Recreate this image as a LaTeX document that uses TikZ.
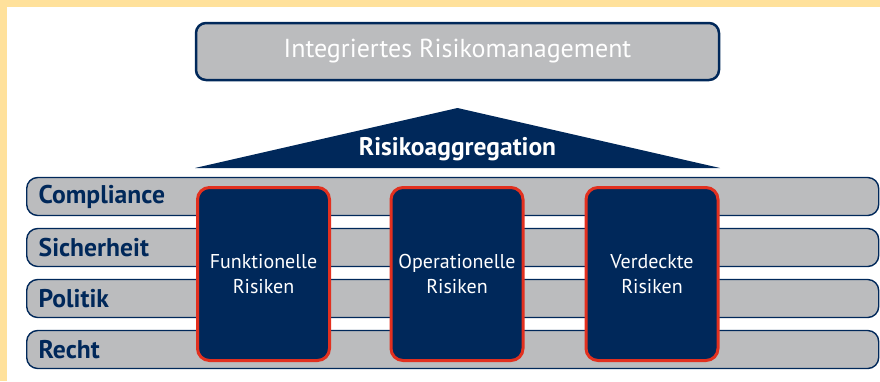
\documentclass[tikz,border=0pt]{standalone}
\usepackage{fontspec}
\setmainfont{PT Sans}
\usepackage{tikz}
\definecolor{marino}{HTML}{00285A}
\definecolor{gris}{HTML}{BBBCBE}
\definecolor{rojo}{HTML}{E2301F}
\definecolor{amarillo}{HTML}{FFE19B}

\begin{document}
\begin{tikzpicture}[x=1pt, y=-1pt, % 1 unidad = 1pt, eje y hacia abajo
    barra/.style={draw=marino, line width=1.4pt, fill=gris, rounded corners=11pt,
        minimum width=852pt, minimum height=38pt, anchor=west, inner xsep=12pt,
        text width=828pt, align=left, text=marino, font=\bfseries\fontsize{25.6}{27}\selectfont},
    riesgo/.style={draw=rojo, line width=3pt, fill=marino, rounded corners=12pt,
        minimum width=132pt, minimum height=173pt, text=white, align=center,
        font=\fontsize{20}{25}\selectfont}]
    \useasboundingbox (0,0) rectangle (880,381);
    \fill[amarillo] (0,0) rectangle (880,381); % Marco
    \fill[white] (7,7) rectangle (880,381);
    % Caja superior
    \node[draw=marino, line width=2.5pt, fill=gris, rounded corners=10pt,
        minimum width=523pt, minimum height=57pt, text=white,
        font=\fontsize{26}{28}\selectfont] (irm) at (457.5,51.5) {Integriertes Risikomanagement};
    % Techo: triangulo de agregacion
    \coordinate (t1) at (195,168);
    \coordinate (t2) at (457.5,108);
    \coordinate (t3) at (720,168);
    \fill[marino] (t1) -- (t2) -- (t3) -- cycle;
    \node[text=white, font=\bfseries\fontsize{25.5}{27}\selectfont] (agg) at (457.5,149) {Risikoaggregation};
    % Barras horizontales
    \node[barra] (comp) at (26,196.5) {Compliance};
    \node[barra] (sich) at (26,247.5) {Sicherheit};
    \node[barra] (poli) at (26,298.5) {Politik};
    \node[barra] (recht) at (26,349.5) {Recht};
    % Columnas de riesgos
    \node[riesgo] (funk) at (263.5,274) {Funktionelle\\Risiken};
    \node[riesgo] (oper) at (457,274) {Operationelle\\Risiken};
    \node[riesgo] (verd) at (652,274) {Verdeckte\\Risiken};
\end{tikzpicture}
\end{document}
